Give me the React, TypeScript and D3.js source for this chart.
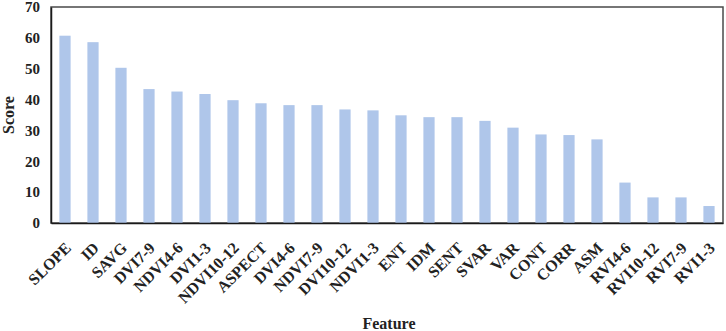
import { useEffect, useRef } from 'react';
import * as d3 from 'd3';

const features = [
  'SLOPE', 'ID', 'SAVG', 'DVI7-9', 'NDVI4-6', 'DVI1-3', 'NDVI10-12', 'ASPECT',
  'DVI4-6', 'NDVI7-9', 'DVI10-12', 'NDVI1-3', 'ENT', 'IDM', 'SENT', 'SVAR',
  'VAR', 'CONT', 'CORR', 'ASM', 'RVI4-6', 'RVI10-12', 'RVI7-9', 'RVI1-3',
];
const scores = [
  60.7, 58.6, 50.3, 43.4, 42.6, 41.8, 39.8, 38.8,
  38.2, 38.2, 36.8, 36.5, 34.9, 34.3, 34.3, 33.1,
  30.9, 28.7, 28.5, 27.1, 13.1, 8.3, 8.3, 5.5,
];
const yTicks = [0, 10, 20, 30, 40, 50, 60, 70];

const W = 726;
const H = 331;
const FONT = '"Liberation Serif", "Times New Roman", serif';

export default function App() {
  const svgRef = useRef<SVGSVGElement>(null);

  useEffect(() => {
    if (!svgRef.current) return;
    const svg = d3.select(svgRef.current);
    svg.selectAll('*').remove();

    const margin = { top: 7, right: 3, bottom: 108, left: 51 };
    const width = W - margin.left - margin.right;
    const chartHeight = H - margin.top - margin.bottom;

    const g = svg.append('g').attr('transform', `translate(${margin.left},${margin.top})`);

    const x = d3.scaleBand().domain(features).range([0, width]).paddingInner(0.6).paddingOuter(0.3);
    const y = d3.scaleLinear().domain([0, 70]).range([chartHeight, 0]);

    // frame (top / right)
    g.append('rect')
      .attr('x', 0)
      .attr('y', 0)
      .attr('width', width)
      .attr('height', chartHeight)
      .attr('fill', 'none')
      .attr('stroke', '#4a4a4a')
      .attr('stroke-width', 1.5);

    // bars
    g.selectAll('.bar')
      .data(features)
      .enter()
      .append('rect')
      .attr('class', 'bar')
      .attr('x', (d) => x(d) || 0)
      .attr('y', (_d, i) => y(scores[i]))
      .attr('width', x.bandwidth())
      .attr('height', (_d, i) => chartHeight - y(scores[i]))
      .attr('fill', '#afc6ea');

    // Y axis
    const yAxis = g.append('g').call(
      d3.axisLeft(y).tickValues(yTicks).tickSize(0).tickPadding(11)
    );
    yAxis.select('.domain').attr('stroke', '#1a1a1a').attr('stroke-width', 1.5);
    yAxis.selectAll('text')
      .attr('fill', '#222')
      .attr('font-family', FONT)
      .attr('font-weight', 'bold')
      .attr('font-size', '15px');

    // X axis
    const xAxis = g.append('g')
      .attr('transform', `translate(0,${chartHeight})`)
      .call(d3.axisBottom(x).tickSize(0).tickSizeOuter(0).tickFormat(() => ''));
    xAxis.select('.domain').attr('stroke', '#1a1a1a').attr('stroke-width', 1.5);

    g.selectAll('.xlabel')
      .data(features)
      .enter()
      .append('text')
      .attr('class', 'xlabel')
      .attr('transform', (d) => `translate(${(x(d) || 0) + x.bandwidth() / 2 + 3},${chartHeight + 22}) rotate(-45)`)
      .attr('text-anchor', 'end')
      .attr('dy', '0.35em')
      .attr('fill', '#222')
      .attr('font-family', FONT)
      .attr('font-weight', 'bold')
      .attr('font-size', '16px')
      .text((d) => d);

    // axis titles
    svg.append('text')
      .attr('transform', `translate(14,${margin.top + chartHeight / 2}) rotate(-90)`)
      .attr('text-anchor', 'middle')
      .attr('fill', '#222')
      .attr('font-family', FONT)
      .attr('font-weight', 'bold')
      .attr('font-size', '16px')
      .text('Score');

    svg.append('text')
      .attr('x', 389)
      .attr('y', 329)
      .attr('text-anchor', 'middle')
      .attr('fill', '#222')
      .attr('font-family', FONT)
      .attr('font-weight', 'bold')
      .attr('font-size', '16px')
      .text('Feature');
  }, []);

  return (
    <div style={{ position: 'absolute', left: 0, top: 0, background: '#fff' }}>
      <svg ref={svgRef} width={W} height={H} />
    </div>
  );
}
